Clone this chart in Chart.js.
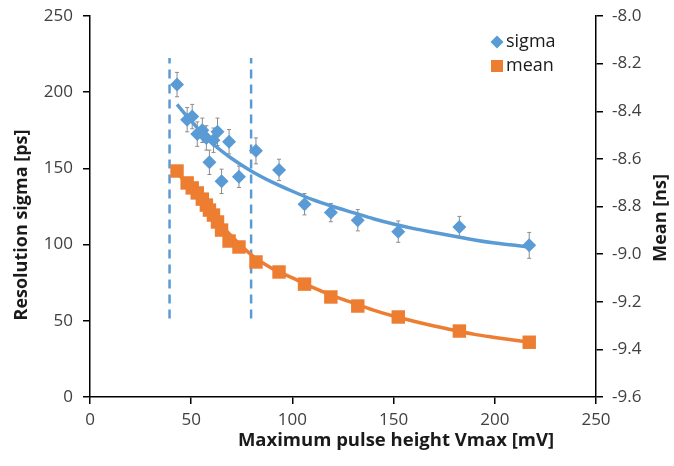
<!DOCTYPE html>
<html>
<head>
<meta charset="utf-8">
<script src="https://cdn.jsdelivr.net/npm/chart.js@4/dist/chart.umd.min.js"></script>
<style>
  html, body { margin: 0; padding: 0; background: #fff; }
  #wrap { width: 674px; height: 466px; }
</style>
</head>
<body>
<div id="wrap"><canvas id="resChart" width="674" height="466"></canvas></div>
<script>
// data
const vmax = [43, 48, 50.5, 53, 55.5, 57.5, 59, 61, 63, 65, 68.7, 73.6, 82, 93.4, 106, 119, 132.3, 152.3, 182.5, 217];
const sigma = [205, 182, 184, 172.5, 175, 170, 154, 168.5, 174, 141.5, 167.5, 144.5, 161.5, 149, 126.5, 121, 116, 108.5, 111.5, 99.5];
const sigmaErr = [8, 8, 8, 8, 8, 8, 8, 8, 9, 8, 8, 7, 8.5, 7, 7, 6, 7, 7, 7, 8.5];
const mean = [-8.651, -8.701, -8.722, -8.743, -8.769, -8.794, -8.815, -8.836, -8.865, -8.899, -8.945, -8.970, -9.033, -9.075, -9.126, -9.180, -9.218, -9.264, -9.323, -9.370];

// fitted curves
const fitX = [43, 50, 60, 70, 80, 90, 100, 110, 120, 130, 140, 150, 160, 170, 180, 190, 200, 210, 217];
const sigmaFit = [192, 181, 167, 156.5, 148, 141, 135, 129.5, 125, 121, 117, 113.5, 110.5, 108, 105.5, 103, 101, 99.5, 98.5];
const meanFit = [-8.655, -8.73, -8.83, -8.925, -9.005, -9.06, -9.10, -9.14, -9.175, -9.205, -9.235, -9.26, -9.282, -9.302, -9.32, -9.337, -9.35, -9.362, -9.37];

// cut lines
const cutX = [39.3, 79.6];
const cutY = [51.5, 222.5];

const xTicks = [0, 50, 100, 150, 200, 250];
const blue = '#5B9BD5';
const orange = '#ED7D31';
const font = "'Open Sans', sans-serif";

function pts(xs, ys) {
  return xs.map((x, i) => ({ x: x, y: ys[i] }));
}

// error bars drawn behind the markers
const errorBars = {
  id: 'errorBars',
  beforeDatasetsDraw(chart) {
    const ctx = chart.ctx;
    const xs = chart.scales.x, ys = chart.scales.y;
    ctx.save();
    ctx.strokeStyle = '#8c8c8c';
    ctx.lineWidth = 1;
    vmax.forEach((v, i) => {
      const px = xs.getPixelForValue(v);
      const top = ys.getPixelForValue(sigma[i] + sigmaErr[i]);
      const bot = ys.getPixelForValue(sigma[i] - sigmaErr[i]);
      ctx.beginPath();
      ctx.moveTo(px, top); ctx.lineTo(px, bot);
      ctx.moveTo(px - 2, top); ctx.lineTo(px + 2, top);
      ctx.moveTo(px - 2, bot); ctx.lineTo(px + 2, bot);
      ctx.stroke();
    });
    ctx.restore();
  }
};

// legend in the top right corner + axis titles
const extras = {
  id: 'extras',
  afterDraw(chart) {
    const ctx = chart.ctx;
    const a = chart.chartArea;
    ctx.save();
    // legend
    const lx = a.right - 99, ly = a.top + 26;
    ctx.fillStyle = blue;
    ctx.beginPath();
    ctx.moveTo(lx - 6.5, ly); ctx.lineTo(lx, ly - 6.5); ctx.lineTo(lx + 6.5, ly); ctx.lineTo(lx, ly + 6.5);
    ctx.closePath(); ctx.fill();
    ctx.fillStyle = orange;
    ctx.fillRect(lx - 6, ly + 18, 12, 12);
    ctx.fillStyle = '#1a1a1a';
    ctx.font = '18px ' + font;
    ctx.textBaseline = 'middle';
    ctx.textAlign = 'left';
    ctx.fillText(chart.data.datasets[0].label, lx + 9, ly);
    ctx.fillText(chart.data.datasets[1].label, lx + 9, ly + 24);

    // axis titles
    ctx.font = 'bold 18.5px ' + font;
    ctx.textAlign = 'center';
    ctx.fillText('Maximum pulse height Vmax [mV]', 396, 441);
    ctx.font = 'bold 18px ' + font;
    ctx.translate(22, 225);
    ctx.rotate(-Math.PI / 2);
    ctx.fillText('Resolution sigma [ps]', 0, 0);
    ctx.restore();
    ctx.save();
    ctx.fillStyle = '#1a1a1a';
    ctx.font = 'bold 18px ' + font;
    ctx.textAlign = 'center';
    ctx.textBaseline = 'middle';
    ctx.translate(661, 218);
    ctx.rotate(-Math.PI / 2);
    ctx.fillText('Mean [ns]', 0, 0);
    ctx.restore();
  }
};

// fixed axis sizes so the plot area sits where it does in the picture
function fixVertical(width) {
  return (s) => {
    s.width = width;
    s.paddingTop = 0;
    s.paddingBottom = 0;
  };
}

const ctx = document.getElementById('resChart').getContext('2d');
const resChart = new Chart(ctx, {
  type: 'scatter',
  data: {
    datasets: [
      {
        label: 'sigma',
        data: pts(vmax, sigma),
        yAxisID: 'y',
        pointStyle: 'rectRot',
        pointRadius: 7,
        backgroundColor: blue,
        borderColor: blue,
        borderWidth: 0,
        order: 0
      },
      {
        label: 'mean',
        data: pts(vmax, mean),
        yAxisID: 'y1',
        pointStyle: 'rect',
        pointRadius: 9.5,
        backgroundColor: orange,
        borderColor: orange,
        borderWidth: 0,
        order: 0
      },
      {
        label: 'sigma fit',
        data: pts(fitX, sigmaFit),
        yAxisID: 'y',
        showLine: true,
        pointRadius: 0,
        borderColor: blue,
        borderWidth: 3.5,
        cubicInterpolationMode: 'monotone',
        order: 1
      },
      {
        label: 'mean fit',
        data: pts(fitX, meanFit),
        yAxisID: 'y1',
        showLine: true,
        pointRadius: 0,
        borderColor: orange,
        borderWidth: 3.5,
        cubicInterpolationMode: 'monotone',
        order: 1
      },
      {
        label: 'cut 1',
        data: pts([cutX[0], cutX[0]], cutY),
        yAxisID: 'y',
        showLine: true,
        pointRadius: 0,
        borderColor: blue,
        borderWidth: 2.5,
        borderDash: [9, 6],
        order: 2
      },
      {
        label: 'cut 2',
        data: pts([cutX[1], cutX[1]], cutY),
        yAxisID: 'y',
        showLine: true,
        pointRadius: 0,
        borderColor: blue,
        borderWidth: 2.5,
        borderDash: [9, 6],
        order: 2
      }
    ]
  },
  options: {
    responsive: false,
    animation: false,
    layout: { padding: { top: 16, left: 0, right: 0, bottom: 0 } },
    plugins: {
      legend: { display: false },
      tooltip: { enabled: false }
    },
    scales: {
      x: {
        type: 'linear',
        min: 0, max: 250,
        afterBuildTicks: (s) => { s.ticks = xTicks.map(v => ({ value: v })); },
        afterFit: (s) => { s.height = 69; },
        border: { color: '#000', width: 1.5 },
        grid: { drawOnChartArea: false, color: '#000', lineWidth: 1.5, tickLength: 7 },
        ticks: { color: '#404040', font: { family: font, size: 17 }, padding: 6, maxRotation: 0 }
      },
      y: {
        position: 'left',
        min: 0, max: 250,
        ticks: { stepSize: 50, color: '#404040', font: { family: font, size: 17 }, padding: 10 },
        afterFit: fixVertical(90),
        border: { color: '#000', width: 1.5 },
        grid: { drawOnChartArea: false, color: '#000', lineWidth: 1.5, tickLength: 7 }
      },
      y1: {
        position: 'right',
        min: -9.6, max: -8.0,
        ticks: {
          stepSize: 0.2,
          color: '#404040',
          font: { family: font, size: 17 },
          padding: 9,
          callback: (v) => v.toFixed(1)
        },
        afterFit: fixVertical(78),
        border: { color: '#000', width: 1.5 },
        grid: { drawOnChartArea: false, color: '#000', lineWidth: 1.5, tickLength: 7 }
      }
    }
  },
  plugins: [errorBars, extras]
});
</script>
</body>
</html>
